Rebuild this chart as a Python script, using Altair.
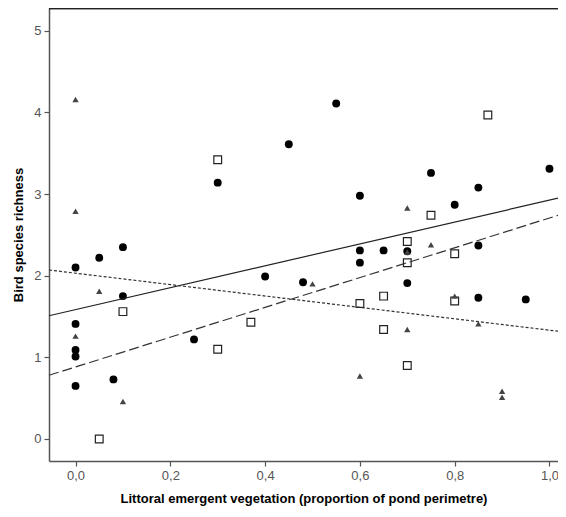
import altair as alt
import pandas as pd

# Filled circles group
circ_x = [0.0, 0.0, 0.0, 0.0, 0.0, 0.05, 0.08, 0.10, 0.10, 0.25, 0.30, 0.40, 0.45, 0.48,
          0.55, 0.60, 0.60, 0.60, 0.65, 0.70, 0.70, 0.75, 0.80, 0.85, 0.85, 0.85, 0.95, 1.00]
circ_y = [2.10, 1.41, 1.09, 1.01, 0.65, 2.22, 0.73, 2.35, 1.75, 1.22, 3.14, 1.99, 3.61, 1.92,
          4.11, 2.98, 2.31, 2.16, 2.31, 2.30, 1.91, 3.26, 2.87, 3.08, 2.37, 1.73, 1.71, 3.31]

# Open squares group
sq_x = [0.05, 0.10, 0.30, 0.30, 0.37, 0.60, 0.65, 0.65, 0.70, 0.70, 0.70, 0.75, 0.80, 0.80, 0.87]
sq_y = [0.00, 1.56, 3.42, 1.10, 1.43, 1.66, 1.75, 1.34, 2.42, 2.16, 0.90, 2.74, 2.27, 1.69, 3.97]

# Grey triangles group
tri_x = [0.0, 0.0, 0.0, 0.05, 0.10, 0.50, 0.60, 0.70, 0.70, 0.70, 0.75, 0.80, 0.85, 0.90, 0.90]
tri_y = [4.16, 2.79, 1.26, 1.81, 0.46, 1.90, 0.77, 2.83, 2.29, 1.34, 2.38, 1.75, 1.41, 0.585, 0.51]

# Fit lines: values at the left and right edges of the plot
line_x = [-0.056, 1.018]
solid_y = [1.51, 2.95]
dashed_y = [0.78, 2.74]
dotted_y = [2.07, 1.32]

XDOM = [-0.056, 1.018]
YDOM = [-0.27, 5.28]
W, H = 509, 453

xs = alt.Scale(domain=XDOM, nice=False, zero=False)
ys = alt.Scale(domain=YDOM, nice=False, zero=False)

xaxis = alt.Axis(values=[0, 0.2, 0.4, 0.6, 0.8, 1.0],
                 labelExpr="replace(format(datum.value, '.1f'), '.', ',')",
                 title="Littoral emergent vegetation (proportion of pond perimetre)",
                 grid=False, tickSize=5, labelPadding=3, titlePadding=10)
yaxis = alt.Axis(values=[0, 1, 2, 3, 4, 5], format="d",
                 title="Bird species richness",
                 grid=False, tickSize=5, labelPadding=3, titlePadding=8)

dc = pd.DataFrame({"x": circ_x, "y": circ_y})
ds = pd.DataFrame({"x": sq_x, "y": sq_y})
dt = pd.DataFrame({"x": tri_x, "y": tri_y})
dl = pd.DataFrame({"x": line_x, "solid": solid_y, "dashed": dashed_y, "dotted": dotted_y})

base_x = alt.X("x:Q", scale=xs, axis=xaxis)
base_y = alt.Y("y:Q", scale=ys, axis=yaxis)

circles = alt.Chart(dc).mark_point(shape="circle", filled=True, color="black", opacity=1, size=62).encode(x=base_x, y=base_y)
squares = alt.Chart(ds).mark_point(shape="square", filled=True, fill="white", stroke="#222222",
                                    strokeWidth=1.2, opacity=1, size=60).encode(x=base_x, y=base_y)
triangles = alt.Chart(dt).mark_point(shape="triangle-up", filled=True, color="#444444", opacity=1, size=40).encode(x=base_x, y=base_y)

solid = alt.Chart(dl).mark_line(color="#222222", strokeWidth=1.2).encode(
    x=alt.X("x:Q", scale=xs), y=alt.Y("solid:Q", scale=ys))
dashed = alt.Chart(dl).mark_line(color="#333333", strokeWidth=1.2, strokeDash=[10, 4]).encode(
    x=alt.X("x:Q", scale=xs), y=alt.Y("dashed:Q", scale=ys))
dotted = alt.Chart(dl).mark_line(color="#333333", strokeWidth=1.2, strokeDash=[3, 2]).encode(
    x=alt.X("x:Q", scale=xs), y=alt.Y("dotted:Q", scale=ys))

top_border = alt.Chart(dl).mark_rule(color="#222222", strokeWidth=1.5).encode(
    x=alt.value(0), x2=alt.value(W), y=alt.value(0.5))

chart = alt.layer(circles, squares, triangles, solid, dashed, dotted, top_border).properties(
    width=W, height=H,
    autosize=alt.AutoSizeParams(type="none"),
    padding={"left": 41, "top": 0, "right": 0, "bottom": 48},
).configure_view(
    strokeWidth=0
).configure_axis(
    labelFont="Liberation Sans", labelFontSize=13, labelColor="#555555",
    titleFont="Liberation Sans", titleFontSize=13, titleFontWeight="bold", titleColor="black",
    domainColor="#555555", domainWidth=1.5, tickColor="#555555", tickWidth=1.2,
)

chart.save("out.html", embed_options={"renderer": "svg", "actions": False})
